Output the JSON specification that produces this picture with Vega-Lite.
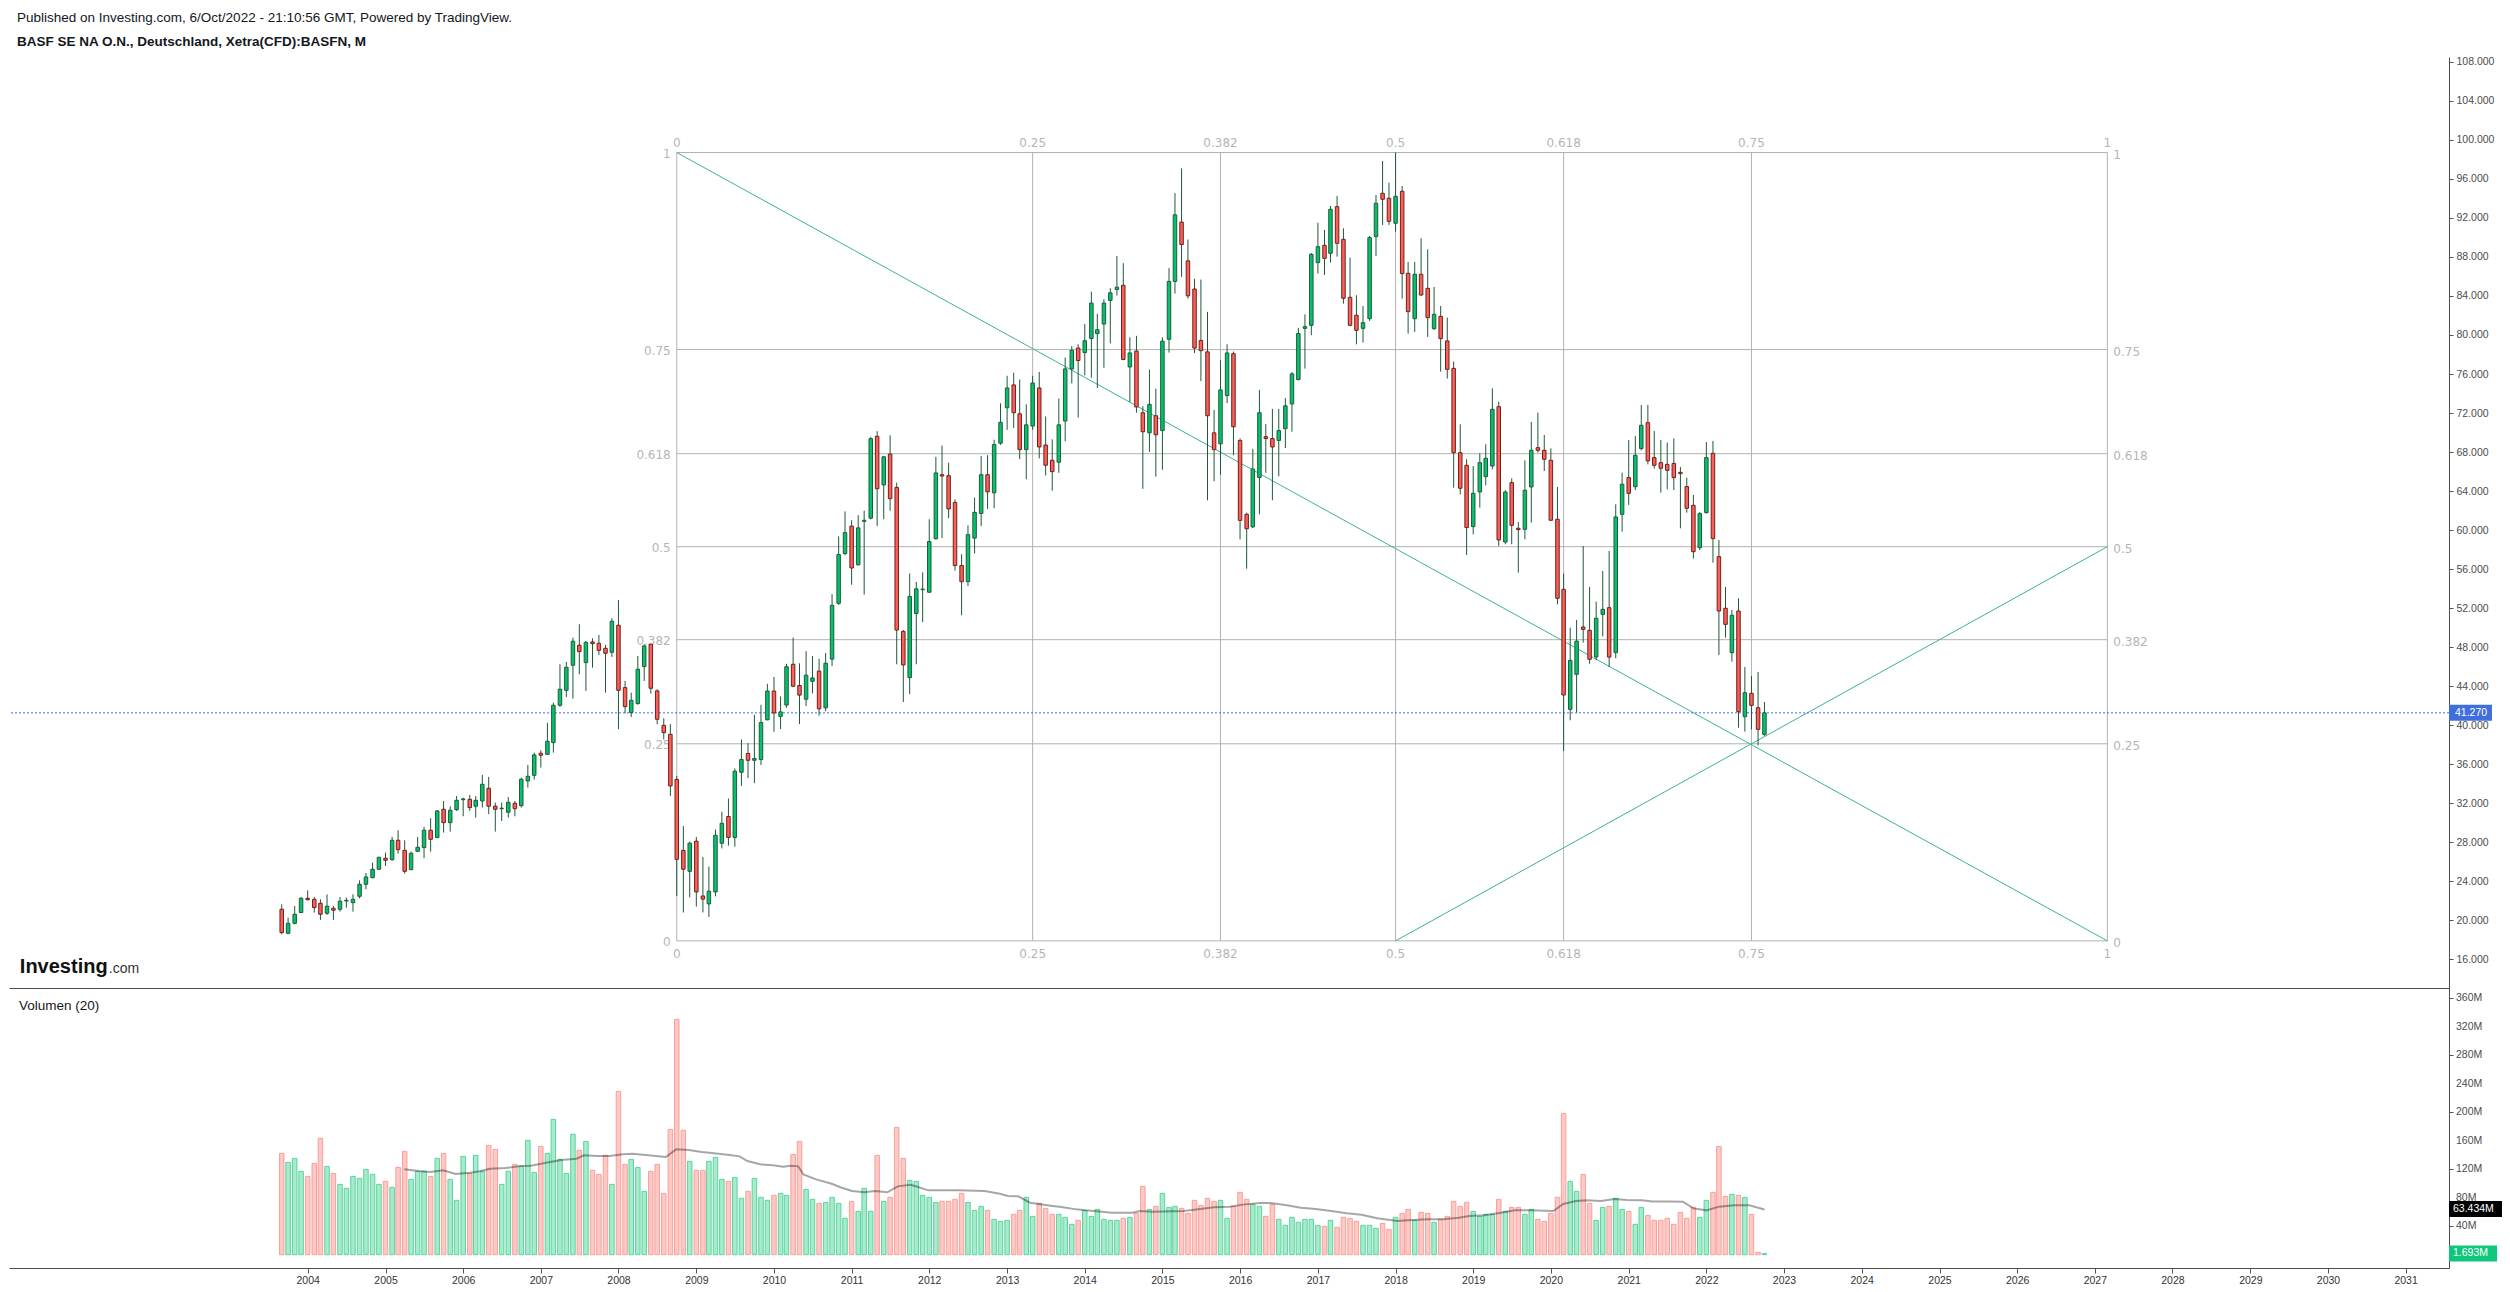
{
"$schema":"https://vega.github.io/schema/vega-lite/v6.json",
"background":"white",
"padding":{"left":8,"top":10,"right":9,"bottom":0},
"title":{"text":"Published on Investing.com, 6/Oct/2022 - 21:10:56 GMT, Powered by TradingView.","subtitle":"BASF SE NA O.N., Deutschland, Xetra(CFD):BASFN, M","anchor":"start","frame":"group","font":"Liberation Sans","fontSize":13.5,"fontWeight":"normal","color":"#131722","subtitleFont":"Liberation Sans","subtitleFontSize":13.5,"subtitleFontWeight":"bold","subtitleColor":"#131722","subtitlePadding":11,"offset":8,"dx":8},
"config":{"view":{"stroke":null},"font":"Liberation Sans","axis":{"labelOverlap":false},"scale":{"continuousPadding":0}},
"datasets":{
"candles":[
{"d":"2003-09-01","o":21.14,"h":21.65,"l":18.58,"c":18.75,"v":142.2},
{"d":"2003-10-01","o":18.68,"h":20.28,"l":18.58,"c":19.70,"v":129.6},
{"d":"2003-11-01","o":19.70,"h":21.48,"l":19.60,"c":20.63,"v":135.2},
{"d":"2003-12-01","o":20.80,"h":22.40,"l":20.75,"c":22.26,"v":117.0},
{"d":"2004-01-01","o":22.26,"h":23.08,"l":22.05,"c":22.12,"v":109.9},
{"d":"2004-02-01","o":22.16,"h":22.40,"l":20.80,"c":21.31,"v":128.2},
{"d":"2004-03-01","o":21.75,"h":22.16,"l":20.05,"c":20.63,"v":163.3},
{"d":"2004-04-01","o":20.73,"h":22.67,"l":20.56,"c":21.45,"v":124.0},
{"d":"2004-05-01","o":21.24,"h":21.48,"l":20.05,"c":21.04,"v":114.1},
{"d":"2004-06-01","o":21.14,"h":22.40,"l":20.90,"c":21.96,"v":98.7},
{"d":"2004-07-01","o":21.99,"h":22.33,"l":21.31,"c":22.06,"v":93.1},
{"d":"2004-08-01","o":21.82,"h":22.67,"l":20.90,"c":22.16,"v":109.9},
{"d":"2004-09-01","o":22.47,"h":24.11,"l":22.26,"c":23.70,"v":107.1},
{"d":"2004-10-01","o":23.70,"h":24.86,"l":23.19,"c":24.45,"v":119.8},
{"d":"2004-11-01","o":24.38,"h":25.92,"l":24.31,"c":25.24,"v":112.7},
{"d":"2004-12-01","o":25.24,"h":26.50,"l":25.20,"c":26.47,"v":98.7},
{"d":"2005-01-01","o":26.37,"h":26.95,"l":25.58,"c":26.16,"v":102.9},
{"d":"2005-02-01","o":26.23,"h":28.55,"l":26.10,"c":28.21,"v":94.5},
{"d":"2005-03-01","o":28.21,"h":29.24,"l":26.84,"c":27.25,"v":122.6},
{"d":"2005-04-01","o":27.18,"h":28.21,"l":24.79,"c":25.03,"v":145.0},
{"d":"2005-05-01","o":25.20,"h":27.05,"l":25.15,"c":26.88,"v":105.7},
{"d":"2005-06-01","o":27.08,"h":28.55,"l":27.05,"c":27.49,"v":117.0},
{"d":"2005-07-01","o":27.46,"h":29.58,"l":26.37,"c":29.24,"v":117.0},
{"d":"2005-08-01","o":29.24,"h":30.47,"l":27.05,"c":28.31,"v":109.9},
{"d":"2005-09-01","o":28.48,"h":31.30,"l":28.45,"c":31.22,"v":135.2},
{"d":"2005-10-01","o":31.39,"h":32.24,"l":29.00,"c":30.02,"v":142.2},
{"d":"2005-11-01","o":30.02,"h":31.70,"l":29.10,"c":31.29,"v":105.7},
{"d":"2005-12-01","o":31.35,"h":32.75,"l":31.22,"c":32.31,"v":76.3},
{"d":"2006-01-01","o":32.37,"h":32.58,"l":30.67,"c":32.45,"v":138.0},
{"d":"2006-02-01","o":32.41,"h":32.86,"l":31.22,"c":31.56,"v":114.1},
{"d":"2006-03-01","o":31.70,"h":32.75,"l":30.53,"c":32.31,"v":139.4},
{"d":"2006-04-01","o":32.24,"h":34.91,"l":31.56,"c":33.95,"v":117.0},
{"d":"2006-05-01","o":33.54,"h":34.70,"l":30.88,"c":31.70,"v":153.4},
{"d":"2006-06-01","o":31.70,"h":32.07,"l":29.10,"c":31.39,"v":147.8},
{"d":"2006-07-01","o":31.45,"h":32.07,"l":30.19,"c":31.50,"v":98.7},
{"d":"2006-08-01","o":31.08,"h":32.65,"l":30.53,"c":32.10,"v":117.0},
{"d":"2006-09-01","o":32.00,"h":32.24,"l":30.67,"c":31.45,"v":126.8},
{"d":"2006-10-01","o":31.76,"h":34.64,"l":31.56,"c":34.46,"v":124.0},
{"d":"2006-11-01","o":34.29,"h":35.93,"l":33.61,"c":34.77,"v":160.5},
{"d":"2006-12-01","o":34.87,"h":37.20,"l":34.43,"c":36.96,"v":115.5},
{"d":"2007-01-01","o":37.13,"h":37.44,"l":35.66,"c":36.92,"v":152.0},
{"d":"2007-02-01","o":37.02,"h":40.24,"l":36.95,"c":38.36,"v":142.2},
{"d":"2007-03-01","o":38.22,"h":42.32,"l":37.20,"c":42.05,"v":189.9},
{"d":"2007-04-01","o":42.05,"h":46.25,"l":41.88,"c":43.69,"v":133.8},
{"d":"2007-05-01","o":43.58,"h":46.49,"l":42.90,"c":45.94,"v":114.1},
{"d":"2007-06-01","o":46.15,"h":48.98,"l":42.73,"c":48.61,"v":168.9},
{"d":"2007-07-01","o":48.20,"h":50.35,"l":45.22,"c":47.55,"v":146.4},
{"d":"2007-08-01","o":46.42,"h":48.64,"l":43.52,"c":48.50,"v":159.1},
{"d":"2007-09-01","o":48.54,"h":48.91,"l":45.91,"c":48.37,"v":118.4},
{"d":"2007-10-01","o":48.40,"h":49.26,"l":47.21,"c":47.68,"v":112.7},
{"d":"2007-11-01","o":47.89,"h":48.23,"l":43.34,"c":47.38,"v":139.4},
{"d":"2007-12-01","o":47.48,"h":50.96,"l":47.00,"c":50.66,"v":98.7},
{"d":"2008-01-01","o":50.25,"h":52.84,"l":39.59,"c":43.58,"v":229.2},
{"d":"2008-02-01","o":43.86,"h":44.54,"l":41.23,"c":41.91,"v":126.8},
{"d":"2008-03-01","o":41.30,"h":43.34,"l":40.85,"c":42.56,"v":133.8},
{"d":"2008-04-01","o":42.22,"h":47.10,"l":42.10,"c":45.74,"v":122.6},
{"d":"2008-05-01","o":46.01,"h":48.30,"l":44.54,"c":48.13,"v":88.9},
{"d":"2008-06-01","o":48.30,"h":48.37,"l":43.24,"c":43.79,"v":117.0},
{"d":"2008-07-01","o":43.52,"h":43.69,"l":40.10,"c":40.61,"v":126.8},
{"d":"2008-08-01","o":39.99,"h":40.71,"l":38.56,"c":39.24,"v":86.1},
{"d":"2008-09-01","o":39.07,"h":40.10,"l":32.75,"c":33.78,"v":175.9},
{"d":"2008-10-01","o":34.44,"h":34.80,"l":22.50,"c":26.26,"v":330.3},
{"d":"2008-11-01","o":27.17,"h":29.67,"l":20.81,"c":25.24,"v":174.5},
{"d":"2008-12-01","o":25.03,"h":28.08,"l":22.36,"c":27.91,"v":131.0},
{"d":"2009-01-01","o":28.12,"h":28.54,"l":21.41,"c":22.92,"v":118.4},
{"d":"2009-02-01","o":22.50,"h":26.50,"l":20.81,"c":22.18,"v":118.4},
{"d":"2009-03-01","o":21.69,"h":25.52,"l":20.35,"c":22.99,"v":131.0},
{"d":"2009-04-01","o":22.92,"h":29.31,"l":22.46,"c":28.72,"v":136.6},
{"d":"2009-05-01","o":27.91,"h":31.14,"l":27.38,"c":29.95,"v":105.7},
{"d":"2009-06-01","o":30.65,"h":32.48,"l":27.66,"c":28.50,"v":102.9},
{"d":"2009-07-01","o":28.50,"h":35.57,"l":27.56,"c":35.29,"v":108.5},
{"d":"2009-08-01","o":35.18,"h":38.55,"l":33.78,"c":36.48,"v":79.1},
{"d":"2009-09-01","o":37.11,"h":38.17,"l":34.58,"c":36.41,"v":88.9},
{"d":"2009-10-01","o":36.41,"h":41.08,"l":34.06,"c":36.59,"v":107.1},
{"d":"2009-11-01","o":36.48,"h":42.10,"l":35.92,"c":40.28,"v":80.5},
{"d":"2009-12-01","o":40.56,"h":44.25,"l":40.50,"c":43.51,"v":76.3},
{"d":"2010-01-01","o":43.51,"h":44.95,"l":39.33,"c":41.26,"v":83.3},
{"d":"2010-02-01","o":40.91,"h":42.95,"l":39.61,"c":41.37,"v":86.1},
{"d":"2010-03-01","o":42.07,"h":46.29,"l":41.79,"c":46.00,"v":83.3},
{"d":"2010-04-01","o":46.25,"h":48.99,"l":43.90,"c":44.00,"v":140.8},
{"d":"2010-05-01","o":44.07,"h":46.35,"l":40.13,"c":43.09,"v":159.1},
{"d":"2010-06-01","o":42.67,"h":47.59,"l":41.96,"c":45.13,"v":91.7},
{"d":"2010-07-01","o":44.50,"h":47.09,"l":43.26,"c":44.85,"v":77.7},
{"d":"2010-08-01","o":45.55,"h":46.81,"l":40.98,"c":41.68,"v":72.0},
{"d":"2010-09-01","o":41.79,"h":47.41,"l":41.44,"c":46.36,"v":73.4},
{"d":"2010-10-01","o":46.78,"h":53.45,"l":46.07,"c":52.29,"v":80.5},
{"d":"2010-11-01","o":52.50,"h":59.36,"l":52.33,"c":57.49,"v":72.0},
{"d":"2010-12-01","o":57.60,"h":61.92,"l":57.42,"c":59.74,"v":51.0},
{"d":"2011-01-01","o":60.41,"h":61.01,"l":54.40,"c":56.12,"v":74.8},
{"d":"2011-02-01","o":56.44,"h":61.53,"l":56.40,"c":60.23,"v":60.8},
{"d":"2011-03-01","o":60.90,"h":61.99,"l":53.38,"c":61.01,"v":93.1},
{"d":"2011-04-01","o":61.22,"h":69.55,"l":61.11,"c":69.37,"v":60.8},
{"d":"2011-05-01","o":69.62,"h":70.14,"l":60.41,"c":64.24,"v":139.4},
{"d":"2011-06-01","o":64.63,"h":67.60,"l":61.11,"c":67.51,"v":74.8},
{"d":"2011-07-01","o":67.79,"h":69.72,"l":61.99,"c":63.22,"v":80.5},
{"d":"2011-08-01","o":64.38,"h":64.87,"l":46.25,"c":49.76,"v":178.7},
{"d":"2011-09-01","o":49.62,"h":49.76,"l":42.38,"c":46.18,"v":135.2},
{"d":"2011-10-01","o":44.88,"h":55.56,"l":43.19,"c":53.21,"v":104.3},
{"d":"2011-11-01","o":51.45,"h":54.68,"l":46.25,"c":53.98,"v":102.9},
{"d":"2011-12-01","o":53.90,"h":55.67,"l":50.57,"c":53.95,"v":83.3},
{"d":"2012-01-01","o":53.63,"h":61.11,"l":53.60,"c":58.83,"v":80.5},
{"d":"2012-02-01","o":59.11,"h":67.51,"l":59.05,"c":65.86,"v":73.4},
{"d":"2012-03-01","o":65.68,"h":68.67,"l":59.18,"c":65.54,"v":74.8},
{"d":"2012-04-01","o":65.58,"h":66.91,"l":61.22,"c":62.17,"v":74.8},
{"d":"2012-05-01","o":62.84,"h":63.15,"l":55.84,"c":56.37,"v":77.7},
{"d":"2012-06-01","o":56.37,"h":57.53,"l":51.27,"c":54.72,"v":86.1},
{"d":"2012-07-01","o":54.72,"h":60.48,"l":54.26,"c":59.53,"v":73.4},
{"d":"2012-08-01","o":59.18,"h":63.33,"l":57.60,"c":61.82,"v":62.2},
{"d":"2012-09-01","o":61.71,"h":67.61,"l":60.41,"c":65.68,"v":67.8},
{"d":"2012-10-01","o":65.68,"h":67.68,"l":62.17,"c":63.92,"v":62.2},
{"d":"2012-11-01","o":63.82,"h":69.26,"l":62.24,"c":68.77,"v":49.6},
{"d":"2012-12-01","o":68.91,"h":73.00,"l":68.74,"c":71.05,"v":46.8},
{"d":"2013-01-01","o":72.54,"h":75.82,"l":70.28,"c":74.57,"v":48.2},
{"d":"2013-02-01","o":74.88,"h":76.13,"l":70.47,"c":72.03,"v":56.6},
{"d":"2013-03-01","o":71.92,"h":75.43,"l":67.28,"c":68.25,"v":62.2},
{"d":"2013-04-01","o":68.25,"h":72.89,"l":65.21,"c":70.79,"v":80.5},
{"d":"2013-05-01","o":70.67,"h":75.82,"l":70.28,"c":75.08,"v":53.8},
{"d":"2013-06-01","o":74.57,"h":76.21,"l":67.35,"c":68.52,"v":72.0},
{"d":"2013-07-01","o":68.72,"h":71.64,"l":65.60,"c":66.65,"v":65.0},
{"d":"2013-08-01","o":67.16,"h":69.30,"l":64.04,"c":65.99,"v":56.6},
{"d":"2013-09-01","o":66.96,"h":73.48,"l":65.87,"c":70.79,"v":56.6},
{"d":"2013-10-01","o":71.18,"h":77.69,"l":69.11,"c":76.52,"v":52.4},
{"d":"2013-11-01","o":76.52,"h":78.86,"l":75.04,"c":78.43,"v":42.6},
{"d":"2013-12-01","o":78.66,"h":79.05,"l":71.53,"c":77.38,"v":48.2},
{"d":"2014-01-01","o":78.20,"h":81.12,"l":75.86,"c":79.41,"v":62.2},
{"d":"2014-02-01","o":79.64,"h":84.44,"l":75.62,"c":83.27,"v":53.8},
{"d":"2014-03-01","o":80.14,"h":82.17,"l":74.57,"c":80.54,"v":63.6},
{"d":"2014-04-01","o":81.12,"h":83.66,"l":76.64,"c":83.27,"v":49.6},
{"d":"2014-05-01","o":83.54,"h":84.79,"l":79.13,"c":84.32,"v":48.2},
{"d":"2014-06-01","o":84.67,"h":88.10,"l":84.05,"c":84.90,"v":48.2},
{"d":"2014-07-01","o":85.10,"h":87.36,"l":77.42,"c":77.49,"v":51.0},
{"d":"2014-08-01","o":76.72,"h":79.76,"l":73.13,"c":78.16,"v":52.4},
{"d":"2014-09-01","o":78.35,"h":79.91,"l":72.03,"c":72.62,"v":58.0},
{"d":"2014-10-01","o":72.03,"h":72.70,"l":64.23,"c":70.08,"v":95.9},
{"d":"2014-11-01","o":69.97,"h":76.44,"l":68.02,"c":72.89,"v":63.6},
{"d":"2014-12-01","o":71.72,"h":74.49,"l":65.48,"c":69.77,"v":67.8},
{"d":"2015-01-01","o":70.20,"h":79.76,"l":66.18,"c":79.37,"v":86.1},
{"d":"2015-02-01","o":79.56,"h":86.85,"l":78.20,"c":85.49,"v":66.4},
{"d":"2015-03-01","o":85.49,"h":94.54,"l":84.24,"c":92.31,"v":67.8},
{"d":"2015-04-01","o":91.57,"h":97.07,"l":85.96,"c":89.27,"v":65.0},
{"d":"2015-05-01","o":87.60,"h":89.78,"l":83.73,"c":84.01,"v":58.0},
{"d":"2015-06-01","o":84.71,"h":85.76,"l":78.16,"c":78.66,"v":76.3},
{"d":"2015-07-01","o":79.44,"h":85.68,"l":75.27,"c":78.39,"v":69.2},
{"d":"2015-08-01","o":78.27,"h":82.37,"l":63.06,"c":71.72,"v":79.1},
{"d":"2015-09-01","o":69.97,"h":72.31,"l":65.01,"c":68.25,"v":74.8},
{"d":"2015-10-01","o":68.84,"h":77.42,"l":65.68,"c":74.37,"v":76.3},
{"d":"2015-11-01","o":73.79,"h":79.05,"l":73.01,"c":78.16,"v":51.0},
{"d":"2015-12-01","o":78.08,"h":78.30,"l":67.67,"c":70.59,"v":67.8},
{"d":"2016-01-01","o":69.19,"h":69.40,"l":59.05,"c":61.00,"v":87.5},
{"d":"2016-02-01","o":61.62,"h":61.80,"l":56.04,"c":60.14,"v":77.7},
{"d":"2016-03-01","o":60.33,"h":68.33,"l":60.22,"c":66.26,"v":70.6},
{"d":"2016-04-01","o":65.40,"h":74.37,"l":61.62,"c":72.03,"v":67.8},
{"d":"2016-05-01","o":69.58,"h":70.86,"l":65.87,"c":69.38,"v":53.8},
{"d":"2016-06-01","o":69.38,"h":72.42,"l":63.06,"c":68.52,"v":70.6},
{"d":"2016-07-01","o":69.19,"h":72.42,"l":65.52,"c":70.20,"v":49.6},
{"d":"2016-08-01","o":70.40,"h":73.52,"l":68.41,"c":72.74,"v":41.2},
{"d":"2016-09-01","o":72.93,"h":76.21,"l":70.09,"c":76.01,"v":52.4},
{"d":"2016-10-01","o":75.43,"h":80.73,"l":75.35,"c":80.15,"v":45.4},
{"d":"2016-11-01","o":80.68,"h":82.12,"l":76.55,"c":80.85,"v":49.6},
{"d":"2016-12-01","o":80.99,"h":88.40,"l":79.97,"c":88.27,"v":49.6},
{"d":"2017-01-01","o":87.42,"h":91.51,"l":86.29,"c":89.05,"v":41.2},
{"d":"2017-02-01","o":89.19,"h":90.76,"l":86.15,"c":87.86,"v":39.8},
{"d":"2017-03-01","o":88.37,"h":93.22,"l":87.42,"c":92.88,"v":48.2},
{"d":"2017-04-01","o":93.15,"h":94.25,"l":88.03,"c":89.40,"v":38.4},
{"d":"2017-05-01","o":89.80,"h":90.93,"l":83.21,"c":83.76,"v":52.4},
{"d":"2017-06-01","o":83.86,"h":87.93,"l":80.90,"c":80.99,"v":51.0},
{"d":"2017-07-01","o":82.02,"h":84.07,"l":79.04,"c":80.48,"v":46.8},
{"d":"2017-08-01","o":80.68,"h":82.97,"l":79.22,"c":81.26,"v":41.2},
{"d":"2017-09-01","o":81.67,"h":90.15,"l":81.44,"c":89.98,"v":41.2},
{"d":"2017-10-01","o":90.08,"h":94.35,"l":88.10,"c":93.50,"v":37.0},
{"d":"2017-11-01","o":94.52,"h":97.83,"l":91.28,"c":93.91,"v":44.0},
{"d":"2017-12-01","o":94.01,"h":95.61,"l":91.28,"c":91.65,"v":35.6},
{"d":"2018-01-01","o":91.45,"h":98.70,"l":90.59,"c":94.21,"v":52.4},
{"d":"2018-02-01","o":94.73,"h":95.27,"l":83.73,"c":86.29,"v":58.0},
{"d":"2018-03-01","o":86.32,"h":87.49,"l":80.14,"c":82.39,"v":63.6},
{"d":"2018-04-01","o":81.67,"h":87.49,"l":80.31,"c":86.22,"v":48.2},
{"d":"2018-05-01","o":86.22,"h":89.91,"l":84.00,"c":84.10,"v":59.4},
{"d":"2018-06-01","o":84.78,"h":88.78,"l":79.80,"c":81.78,"v":58.0},
{"d":"2018-07-01","o":80.65,"h":84.92,"l":80.51,"c":82.12,"v":45.4},
{"d":"2018-08-01","o":81.91,"h":82.97,"l":76.24,"c":79.63,"v":49.6},
{"d":"2018-09-01","o":79.39,"h":81.78,"l":75.53,"c":76.48,"v":53.8},
{"d":"2018-10-01","o":76.58,"h":77.27,"l":64.35,"c":67.94,"v":74.8},
{"d":"2018-11-01","o":67.94,"h":70.84,"l":63.67,"c":64.29,"v":67.8},
{"d":"2018-12-01","o":66.64,"h":67.26,"l":57.45,"c":60.26,"v":73.4},
{"d":"2019-01-01","o":60.36,"h":66.57,"l":59.57,"c":63.77,"v":60.8},
{"d":"2019-02-01","o":63.91,"h":67.87,"l":62.30,"c":66.91,"v":53.8},
{"d":"2019-03-01","o":65.48,"h":68.80,"l":64.59,"c":67.36,"v":56.6},
{"d":"2019-04-01","o":66.57,"h":74.53,"l":66.23,"c":72.38,"v":56.6},
{"d":"2019-05-01","o":72.65,"h":73.17,"l":58.38,"c":58.99,"v":77.7},
{"d":"2019-06-01","o":58.78,"h":64.08,"l":58.55,"c":63.91,"v":60.8},
{"d":"2019-07-01","o":64.87,"h":65.31,"l":58.55,"c":60.49,"v":66.4},
{"d":"2019-08-01","o":60.19,"h":60.83,"l":55.64,"c":60.05,"v":66.4},
{"d":"2019-09-01","o":60.08,"h":67.15,"l":59.06,"c":64.08,"v":56.6},
{"d":"2019-10-01","o":64.42,"h":71.08,"l":60.77,"c":68.18,"v":63.6},
{"d":"2019-11-01","o":68.45,"h":72.04,"l":67.94,"c":68.18,"v":49.6},
{"d":"2019-12-01","o":68.18,"h":69.75,"l":66.06,"c":67.26,"v":46.8},
{"d":"2020-01-01","o":67.16,"h":68.38,"l":60.94,"c":61.01,"v":58.0},
{"d":"2020-02-01","o":61.11,"h":64.42,"l":52.39,"c":53.01,"v":80.5},
{"d":"2020-03-01","o":53.93,"h":55.54,"l":37.36,"c":43.10,"v":198.3},
{"d":"2020-04-01","o":41.63,"h":50.00,"l":40.51,"c":46.65,"v":102.9},
{"d":"2020-05-01","o":45.22,"h":50.79,"l":41.29,"c":48.62,"v":88.9},
{"d":"2020-06-01","o":50.07,"h":58.37,"l":48.47,"c":49.83,"v":112.7},
{"d":"2020-07-01","o":49.73,"h":54.17,"l":46.31,"c":46.76,"v":72.0},
{"d":"2020-08-01","o":47.00,"h":52.67,"l":46.66,"c":50.96,"v":48.2},
{"d":"2020-09-01","o":51.37,"h":55.81,"l":49.11,"c":51.88,"v":66.4},
{"d":"2020-10-01","o":52.05,"h":57.86,"l":45.97,"c":46.99,"v":67.8},
{"d":"2020-11-01","o":47.44,"h":62.65,"l":46.86,"c":61.35,"v":79.1},
{"d":"2020-12-01","o":61.62,"h":65.89,"l":59.84,"c":64.70,"v":63.6},
{"d":"2021-01-01","o":65.38,"h":69.24,"l":62.58,"c":63.77,"v":60.8},
{"d":"2021-02-01","o":64.45,"h":69.65,"l":64.11,"c":67.67,"v":42.6},
{"d":"2021-03-01","o":68.35,"h":72.83,"l":68.18,"c":70.74,"v":66.4},
{"d":"2021-04-01","o":71.01,"h":72.83,"l":66.74,"c":67.09,"v":55.2},
{"d":"2021-05-01","o":67.43,"h":70.16,"l":66.30,"c":66.64,"v":48.2},
{"d":"2021-06-01","o":66.91,"h":69.24,"l":63.84,"c":66.34,"v":48.2},
{"d":"2021-07-01","o":66.74,"h":68.97,"l":64.18,"c":66.13,"v":51.0},
{"d":"2021-08-01","o":66.84,"h":69.41,"l":64.11,"c":65.38,"v":42.6},
{"d":"2021-09-01","o":65.92,"h":66.47,"l":60.18,"c":65.79,"v":59.4},
{"d":"2021-10-01","o":64.46,"h":65.38,"l":61.79,"c":62.24,"v":51.0},
{"d":"2021-11-01","o":62.54,"h":63.60,"l":57.08,"c":57.79,"v":66.4},
{"d":"2021-12-01","o":58.20,"h":61.86,"l":57.96,"c":61.69,"v":52.4},
{"d":"2022-01-01","o":61.79,"h":69.03,"l":61.70,"c":67.43,"v":76.3},
{"d":"2022-02-01","o":67.87,"h":69.14,"l":56.66,"c":59.13,"v":87.5},
{"d":"2022-03-01","o":57.28,"h":58.99,"l":47.20,"c":51.71,"v":152.0},
{"d":"2022-04-01","o":51.99,"h":54.17,"l":48.98,"c":50.34,"v":81.9},
{"d":"2022-05-01","o":47.44,"h":51.81,"l":46.52,"c":51.27,"v":84.7},
{"d":"2022-06-01","o":51.71,"h":53.01,"l":39.75,"c":41.39,"v":83.3},
{"d":"2022-07-01","o":40.88,"h":45.97,"l":39.34,"c":43.34,"v":80.5},
{"d":"2022-08-01","o":43.27,"h":45.05,"l":39.58,"c":42.04,"v":56.6},
{"d":"2022-09-01","o":41.80,"h":45.46,"l":37.94,"c":39.58,"v":3.3},
{"d":"2022-10-01","o":39.07,"h":42.38,"l":38.91,"c":41.27,"v":1.693}
],
"ma":[
{"d":"2005-03-30","m":119.8},{"d":"2005-06-06","m":117.4},{"d":"2005-07-30","m":116.0},{"d":"2005-09-29","m":118.4},{"d":"2005-11-26","m":113.2},{"d":"2006-02-02","m":115.1},{"d":"2006-03-19","m":117.0},{"d":"2006-05-07","m":120.7},{"d":"2006-07-17","m":121.6},{"d":"2006-09-28","m":124.4},{"d":"2006-11-15","m":124.9},{"d":"2007-01-26","m":129.1},{"d":"2007-04-07","m":132.9},{"d":"2007-06-18","m":134.7},{"d":"2007-07-23","m":139.4},{"d":"2007-09-22","m":138.5},{"d":"2007-11-21","m":138.5},{"d":"2008-01-20","m":140.8},{"d":"2008-03-08","m":141.7},{"d":"2008-05-19","m":139.4},{"d":"2008-08-11","m":137.1},{"d":"2008-09-28","m":147.8},{"d":"2008-11-27","m":146.9},{"d":"2009-01-26","m":144.1},{"d":"2009-03-25","m":142.2},{"d":"2009-06-06","m":139.9},{"d":"2009-07-23","m":138.0},{"d":"2009-08-29","m":131.5},{"d":"2009-10-28","m":126.8},{"d":"2009-12-27","m":125.4},{"d":"2010-02-14","m":123.5},{"d":"2010-03-20","m":124.9},{"d":"2010-04-25","m":124.0},{"d":"2010-05-19","m":112.7},{"d":"2010-07-18","m":105.7},{"d":"2010-09-29","m":99.6},{"d":"2010-11-16","m":94.0},{"d":"2011-01-03","m":89.3},{"d":"2011-03-02","m":87.5},{"d":"2011-04-20","m":89.3},{"d":"2011-06-18","m":87.5},{"d":"2011-08-06","m":95.9},{"d":"2011-10-05","m":98.2},{"d":"2011-11-10","m":95.0},{"d":"2011-12-27","m":90.3},{"d":"2012-02-14","m":90.3},{"d":"2012-05-19","m":90.3},{"d":"2012-09-16","m":89.3},{"d":"2012-11-28","m":85.6},{"d":"2013-01-04","m":82.3},{"d":"2013-02-22","m":81.9},{"d":"2013-04-19","m":73.0},{"d":"2013-07-25","m":68.8},{"d":"2013-09-13","m":66.9},{"d":"2013-11-22","m":63.6},{"d":"2014-01-04","m":62.2},{"d":"2014-03-22","m":60.3},{"d":"2014-05-07","m":58.9},{"d":"2014-08-13","m":58.9},{"d":"2014-09-19","m":61.3},{"d":"2014-11-16","m":60.3},{"d":"2015-04-10","m":61.3},{"d":"2015-06-19","m":63.6},{"d":"2015-09-01","m":66.4},{"d":"2015-11-13","m":67.4},{"d":"2016-01-22","m":70.6},{"d":"2016-04-04","m":72.5},{"d":"2016-05-22","m":72.5},{"d":"2016-08-01","m":69.7},{"d":"2016-10-13","m":66.0},{"d":"2016-12-22","m":64.1},{"d":"2017-03-04","m":61.3},{"d":"2017-05-16","m":58.0},{"d":"2017-07-25","m":56.1},{"d":"2017-10-07","m":51.0},{"d":"2018-01-10","m":47.2},{"d":"2018-02-28","m":48.2},{"d":"2018-06-04","m":49.6},{"d":"2018-08-13","m":49.6},{"d":"2018-10-25","m":51.9},{"d":"2018-12-13","m":54.3},{"d":"2019-02-22","m":55.2},{"d":"2019-05-04","m":58.5},{"d":"2019-07-16","m":62.2},{"d":"2019-09-25","m":62.2},{"d":"2020-01-13","m":61.3},{"d":"2020-02-28","m":71.1},{"d":"2020-04-28","m":75.3},{"d":"2020-06-16","m":76.3},{"d":"2020-08-25","m":75.3},{"d":"2020-10-25","m":78.1},{"d":"2020-12-25","m":76.7},{"d":"2021-03-04","m":76.3},{"d":"2021-04-22","m":74.8},{"d":"2021-07-04","m":74.8},{"d":"2021-09-13","m":74.4},{"d":"2021-11-01","m":65.0},{"d":"2022-01-01","m":62.2},{"d":"2022-03-01","m":67.4},{"d":"2022-05-10","m":69.2},{"d":"2022-07-22","m":69.2},{"d":"2022-10-01","m":63.4}
],
"fibh":[
{"lv":"0","p":17.9,"d0":"2008-10-01","d1":"2027-03-01"},
{"lv":"0.25","p":38.1,"d0":"2008-10-01","d1":"2027-03-01"},
{"lv":"0.382","p":48.77,"d0":"2008-10-01","d1":"2027-03-01"},
{"lv":"0.5","p":58.3,"d0":"2008-10-01","d1":"2027-03-01"},
{"lv":"0.618","p":67.83,"d0":"2008-10-01","d1":"2027-03-01"},
{"lv":"0.75","p":78.5,"d0":"2008-10-01","d1":"2027-03-01"},
{"lv":"1","p":98.7,"d0":"2008-10-01","d1":"2027-03-01"}
],
"fibv":[
{"lv":"0","d":"2008-10-01","p0":17.9,"p1":98.7},
{"lv":"0.25","d":"2013-05-01","p0":17.9,"p1":98.7},
{"lv":"0.382","d":"2015-10-01","p0":17.9,"p1":98.7},
{"lv":"0.5","d":"2018-01-01","p0":17.9,"p1":98.7},
{"lv":"0.618","d":"2020-03-01","p0":17.9,"p1":98.7},
{"lv":"0.75","d":"2022-08-01","p0":17.9,"p1":98.7},
{"lv":"1","d":"2027-03-01","p0":17.9,"p1":98.7}
],
"fan":[
{"d0":"2008-10-01","p0":98.7,"d1":"2027-03-01","p1":17.9},
{"d0":"2018-01-01","p0":17.9,"d1":"2027-03-01","p1":58.3}
],
"vticks":[
{"v":40,"t":"40M"},{"v":80,"t":"80M"},{"v":120,"t":"120M"},{"v":160,"t":"160M"},{"v":200,"t":"200M"},{"v":240,"t":"240M"},{"v":280,"t":"280M"},{"v":320,"t":"320M"},{"v":360,"t":"360M"}
]
},
"spacing":0,
"resolve":{"scale":{"x":"independent","y":"independent"}},
"vconcat":[
{
"width":2440,"height":931,
"layer":[
{"data":{"name":"fibh"},"mark":{"type":"rule","color":"#b2b2b2","strokeWidth":1},
 "encoding":{
  "x":{"field":"d0","type":"temporal","scale":{"type":"utc","domain":[951609600000,1942617600000],"nice":false,"padding":0},"axis":{"orient":"bottom","labels":false,"ticks":false,"domain":true,"domainColor":"#4d4d4d","domainWidth":1,"grid":false,"title":null}},
  "x2":{"field":"d1"},
  "y":{"field":"p","type":"quantitative","scale":{"domain":[13.07,108.49],"nice":false,"zero":false,"padding":0},"axis":{"orient":"right","values":[16,20,24,28,32,36,40,44,48,52,56,60,64,68,72,76,80,84,88,92,96,100,104,108],"format":".3f","labelFont":"Liberation Sans","labelFontSize":10.5,"labelColor":"#4c4c4c","tickSize":4,"tickColor":"#555555","domainColor":"#4d4d4d","labelPadding":3,"grid":false,"title":null,"labelOverlap":false}}}},
{"data":{"name":"fibv"},"mark":{"type":"rule","color":"#b2b2b2","strokeWidth":1},
 "encoding":{
  "x":{"field":"d","type":"temporal","scale":{"type":"utc","domain":[951609600000,1942617600000],"nice":false,"padding":0}},
  "y":{"field":"p0","type":"quantitative","scale":{"domain":[13.07,108.49],"nice":false,"zero":false,"padding":0}},
  "y2":{"field":"p1"}}},
{"data":{"name":"fan"},"mark":{"type":"rule","color":"#3cb394","strokeWidth":1},
 "encoding":{
  "x":{"field":"d0","type":"temporal","scale":{"type":"utc","domain":[951609600000,1942617600000],"nice":false,"padding":0}},
  "x2":{"field":"d1"},
  "y":{"field":"p0","type":"quantitative","scale":{"domain":[13.07,108.49],"nice":false,"zero":false,"padding":0}},
  "y2":{"field":"p1"}}},
{"data":{"name":"fibv"},"mark":{"type":"text","font":"DejaVu Sans","fontSize":12,"color":"#b5b5b5","align":"center","baseline":"middle","dy":-10},
 "encoding":{
  "x":{"field":"d","type":"temporal","scale":{"type":"utc","domain":[951609600000,1942617600000],"nice":false,"padding":0}},
  "y":{"field":"p1","type":"quantitative","scale":{"domain":[13.07,108.49],"nice":false,"zero":false,"padding":0}},
  "text":{"field":"lv"}}},
{"data":{"name":"fibv"},"mark":{"type":"text","font":"DejaVu Sans","fontSize":12,"color":"#b5b5b5","align":"center","baseline":"middle","dy":13},
 "encoding":{
  "x":{"field":"d","type":"temporal","scale":{"type":"utc","domain":[951609600000,1942617600000],"nice":false,"padding":0}},
  "y":{"field":"p0","type":"quantitative","scale":{"domain":[13.07,108.49],"nice":false,"zero":false,"padding":0}},
  "text":{"field":"lv"}}},
{"data":{"name":"fibh"},"mark":{"type":"text","font":"DejaVu Sans","fontSize":12,"color":"#b5b5b5","align":"right","baseline":"middle","dx":-6,"dy":1},
 "encoding":{
  "x":{"field":"d0","type":"temporal","scale":{"type":"utc","domain":[951609600000,1942617600000],"nice":false,"padding":0}},
  "y":{"field":"p","type":"quantitative","scale":{"domain":[13.07,108.49],"nice":false,"zero":false,"padding":0}},
  "text":{"field":"lv"}}},
{"data":{"name":"fibh"},"mark":{"type":"text","font":"DejaVu Sans","fontSize":12,"color":"#b5b5b5","align":"left","baseline":"middle","dx":6,"dy":2},
 "encoding":{
  "x":{"field":"d1","type":"temporal","scale":{"type":"utc","domain":[951609600000,1942617600000],"nice":false,"padding":0}},
  "y":{"field":"p","type":"quantitative","scale":{"domain":[13.07,108.49],"nice":false,"zero":false,"padding":0}},
  "text":{"field":"lv"}}},
{"data":{"values":[{"p":41.27}]},"mark":{"type":"rule","color":"#3a6df0","strokeWidth":1,"strokeDash":[2,2]},
 "encoding":{"y":{"field":"p","type":"quantitative","scale":{"domain":[13.07,108.49],"nice":false,"zero":false,"padding":0}}}},
{"data":{"name":"candles"},"mark":{"type":"rule","color":"#1e5a38","strokeWidth":1},
 "encoding":{
  "x":{"field":"d","type":"temporal","scale":{"type":"utc","domain":[951609600000,1942617600000],"nice":false,"padding":0}},
  "y":{"field":"l","type":"quantitative","scale":{"domain":[13.07,108.49],"nice":false,"zero":false,"padding":0}},
  "y2":{"field":"h"}}},
{"data":{"name":"candles"},"mark":{"type":"bar","width":3.5,"strokeWidth":1},
 "encoding":{
  "x":{"field":"d","type":"temporal","scale":{"type":"utc","domain":[951609600000,1942617600000],"nice":false,"padding":0}},
  "y":{"field":"o","type":"quantitative","scale":{"domain":[13.07,108.49],"nice":false,"zero":false,"padding":0}},
  "y2":{"field":"c"},
  "fill":{"condition":{"test":"datum.c >= datum.o","value":"#06c06c"},"value":"#f96057"},
  "stroke":{"condition":{"test":"datum.c >= datum.o","value":"#1b5e3b"},"value":"#70201c"}}},
{"data":{"values":[{"t":"Investing"}]},"mark":{"type":"text","font":"Liberation Sans","fontSize":20,"fontWeight":"bold","color":"#111111","align":"left","baseline":"alphabetic"},
 "encoding":{
  "x":{"datum":956016000000,"type":"temporal","scale":{"type":"utc","domain":[951609600000,1942617600000],"nice":false,"padding":0}},
  "y":{"datum":14.6,"type":"quantitative","scale":{"domain":[13.07,108.49],"nice":false,"zero":false,"padding":0}},
  "text":{"field":"t"}}},
{"data":{"values":[{"t":".com"}]},"mark":{"type":"text","font":"Liberation Sans","fontSize":14,"color":"#333333","align":"left","baseline":"alphabetic","dx":89},
 "encoding":{
  "x":{"datum":956016000000,"type":"temporal","scale":{"type":"utc","domain":[951609600000,1942617600000],"nice":false,"padding":0}},
  "y":{"datum":14.6,"type":"quantitative","scale":{"domain":[13.07,108.49],"nice":false,"zero":false,"padding":0}},
  "text":{"field":"t"}}},
{"data":{"values":[{"p":41.27}]},"mark":{"type":"rect","color":"#3f6fde"},
 "encoding":{
  "x":{"datum":1942617600000,"type":"temporal","scale":{"type":"utc","domain":[951609600000,1942617600000],"nice":false,"padding":0}},
  "x2":{"datum":1960070400000},
  "y":{"datum":42.09,"type":"quantitative","scale":{"domain":[13.07,108.49],"nice":false,"zero":false,"padding":0}},
  "y2":{"datum":40.45}}},
{"data":{"values":[{"p":41.27,"t":"41.270"}]},"mark":{"type":"text","font":"Liberation Sans","fontSize":10.5,"color":"white","align":"left","baseline":"middle","dx":6},
 "encoding":{
  "x":{"datum":1942617600000,"type":"temporal","scale":{"type":"utc","domain":[951609600000,1942617600000],"nice":false,"padding":0}},
  "y":{"field":"p","type":"quantitative","scale":{"domain":[13.07,108.49],"nice":false,"zero":false,"padding":0}},
  "text":{"field":"t"}}}
]
},
{
"width":2440,"height":280,
"layer":[
{"data":{"name":"candles"},"mark":{"type":"bar","width":4.5,"strokeWidth":1},
 "encoding":{
  "x":{"field":"d","type":"temporal","scale":{"type":"utc","domain":[951609600000,1942617600000],"nice":false,"padding":0},"axis":{"orient":"bottom","values":[1072915200000,1104537600000,1136073600000,1167609600000,1199145600000,1230768000000,1262304000000,1293840000000,1325376000000,1356998400000,1388534400000,1420070400000,1451606400000,1483228800000,1514764800000,1546300800000,1577836800000,1609459200000,1640995200000,1672531200000,1704067200000,1735689600000,1767225600000,1798761600000,1830297600000,1861920000000,1893456000000,1924992000000],"format":"%Y","labelFont":"Liberation Sans","labelFontSize":10.5,"labelColor":"#333333","tickSize":5,"tickColor":"#555555","domainColor":"#4d4d4d","labelPadding":2,"grid":false,"title":null,"labelOverlap":false}},
  "y":{"field":"v","type":"quantitative","scale":{"domain":[-18.7,374.3],"nice":false,"zero":false,"padding":0},"axis":{"orient":"right","values":[40,80,120,160,200,240,280,320,360],"labels":false,"tickSize":4,"tickColor":"#555555","domainColor":"#4d4d4d","grid":false,"title":null}},
  "y2":{"datum":0},
  "fill":{"condition":{"test":"datum.c >= datum.o","value":"#a6ebca"},"value":"#fec8c5"},
  "stroke":{"condition":{"test":"datum.c >= datum.o","value":"#5bd39f"},"value":"#f6a19b"}}},
{"data":{"name":"ma"},"mark":{"type":"line","color":"#000000","strokeWidth":2,"opacity":0.35},
 "encoding":{
  "x":{"field":"d","type":"temporal","scale":{"type":"utc","domain":[951609600000,1942617600000],"nice":false,"padding":0}},
  "y":{"field":"m","type":"quantitative","scale":{"domain":[-18.7,374.3],"nice":false,"zero":false,"padding":0}}}},
{"data":{"name":"vticks"},"mark":{"type":"text","font":"Liberation Sans","fontSize":10.5,"color":"#4c4c4c","align":"left","baseline":"middle","dx":7},
 "encoding":{
  "x":{"datum":1942617600000,"type":"temporal","scale":{"type":"utc","domain":[951609600000,1942617600000],"nice":false,"padding":0}},
  "y":{"field":"v","type":"quantitative","scale":{"domain":[-18.7,374.3],"nice":false,"zero":false,"padding":0}},
  "text":{"field":"t"}}},
{"data":{"values":[{"t":"Volumen (20)"}]},"mark":{"type":"text","font":"Liberation Sans","fontSize":13.5,"color":"#131722","align":"left","baseline":"alphabetic"},
 "encoding":{
  "x":{"datum":955670400000,"type":"temporal","scale":{"type":"utc","domain":[951609600000,1942617600000],"nice":false,"padding":0}},
  "y":{"datum":343.4,"type":"quantitative","scale":{"domain":[-18.7,374.3],"nice":false,"zero":false,"padding":0}},
  "text":{"field":"t"}}},
{"data":{"values":[{"a":1}]},"mark":{"type":"rect","color":"#000000"},
 "encoding":{
  "x":{"datum":1942617600000,"type":"temporal","scale":{"type":"utc","domain":[951609600000,1942617600000],"nice":false,"padding":0}},
  "x2":{"datum":1964131200000},
  "y":{"datum":75.4,"type":"quantitative","scale":{"domain":[-18.7,374.3],"nice":false,"zero":false,"padding":0}},
  "y2":{"datum":52.9}}},
{"data":{"values":[{"v":63.434,"t":"63.434M"}]},"mark":{"type":"text","font":"Liberation Sans","fontSize":10.5,"color":"white","align":"left","baseline":"middle","dx":4},
 "encoding":{
  "x":{"datum":1942617600000,"type":"temporal","scale":{"type":"utc","domain":[951609600000,1942617600000],"nice":false,"padding":0}},
  "y":{"field":"v","type":"quantitative","scale":{"domain":[-18.7,374.3],"nice":false,"zero":false,"padding":0}},
  "text":{"field":"t"}}},
{"data":{"values":[{"a":1}]},"mark":{"type":"rect","color":"#0fc77a"},
 "encoding":{
  "x":{"datum":1942617600000,"type":"temporal","scale":{"type":"utc","domain":[951609600000,1942617600000],"nice":false,"padding":0}},
  "x2":{"datum":1962144000000},
  "y":{"datum":12.9,"type":"quantitative","scale":{"domain":[-18.7,374.3],"nice":false,"zero":false,"padding":0}},
  "y2":{"datum":-9.6}}},
{"data":{"values":[{"v":1.693,"t":"1.693M"}]},"mark":{"type":"text","font":"Liberation Sans","fontSize":10.5,"color":"white","align":"left","baseline":"middle","dx":4},
 "encoding":{
  "x":{"datum":1942617600000,"type":"temporal","scale":{"type":"utc","domain":[951609600000,1942617600000],"nice":false,"padding":0}},
  "y":{"field":"v","type":"quantitative","scale":{"domain":[-18.7,374.3],"nice":false,"zero":false,"padding":0}},
  "text":{"field":"t"}}}
]
}
]
}
